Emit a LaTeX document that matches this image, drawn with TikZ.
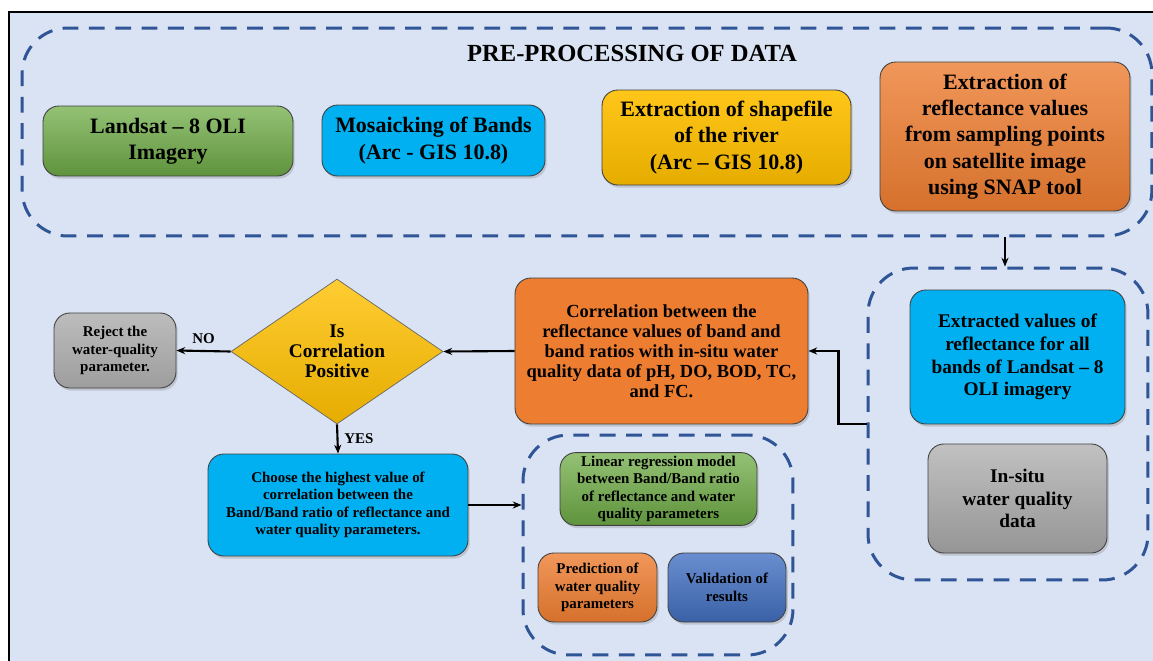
\documentclass[tikz,border=0pt]{standalone}
\usepackage{fontspec}
\setmainfont{Liberation Serif}
\usetikzlibrary{shapes.geometric, arrows.meta, shadows, positioning}

\definecolor{pagebg}{HTML}{DAE3F3}
\definecolor{dashblue}{HTML}{2F5597}
\definecolor{leafgreen}{HTML}{70AD47}
\definecolor{skycyan}{HTML}{00B0F0}
\definecolor{goldyellow}{HTML}{FFC000}
\definecolor{burntorange}{HTML}{ED7D31}
\definecolor{midgray}{HTML}{A6A6A6}
\definecolor{royalblue}{HTML}{4472C4}

\begin{document}
\begin{tikzpicture}[x=0.02cm, y=-0.02cm,
  procbox/.style={draw=black!75, line width=0.5pt, rounded corners=9pt, align=center, inner sep=2pt,
    drop shadow={opacity=0.3, shadow xshift=1pt, shadow yshift=-1.5pt}},
  groupbox/.style={draw=dashblue, line width=1.7pt, dash pattern=on 9pt off 6pt, rounded corners=26pt},
  flowarrow/.style={-{Stealth[length=5pt, width=4pt]}, line width=1.2pt},
  bigtext/.style={font=\fontsize{12.5}{15}\selectfont\bfseries},
  midtext/.style={font=\fontsize{11}{13}\selectfont\bfseries},
  smalltext/.style={font=\fontsize{8.5}{9.9}\selectfont\bfseries}]

% page and frame
\useasboundingbox (0,0) rectangle (1153,660);
\fill[white] (0,0) rectangle (1153,660);
\fill[pagebg] (9,12) rectangle (1160,670);
\draw[line width=1.7pt] (9,670) -- (9,12) -- (1160,12);

% pre-processing group
\node (pre)[groupbox, minimum width=22.6cm, minimum height=4.16cm] at (587,132) {};
\node (title)[font=\fontsize{14}{16}\selectfont\bfseries] at (632,53) {PRE-PROCESSING OF DATA};
\node (landsat)[procbox, bigtext, top color=leafgreen!75!white, bottom color=leafgreen!85!black,
  minimum width=5cm, minimum height=1.4cm] at (168,141) {Landsat -- 8 OLI\\Imagery};
\node (mosaic)[procbox, bigtext, fill=skycyan, minimum width=4.46cm, minimum height=1.42cm]
  at (433.5,140.5) {Mosaicking of Bands\\(Arc - GIS 10.8)};
\node (shape)[procbox, bigtext, top color=goldyellow!90!white, bottom color=goldyellow!90!black,
  minimum width=4.98cm, minimum height=1.9cm] at (726.5,137.5) {Extraction of shapefile\\of the river\\(Arc -- GIS 10.8)};
\node (reflect)[procbox, bigtext, top color=burntorange!80!white, bottom color=burntorange!90!black,
  minimum width=5cm, minimum height=2.98cm] at (1005,136.5)
  {Extraction of\\reflectance values\\from sampling points\\on satellite image\\using SNAP tool};

% extracted data group
\node (rgroup)[groupbox, minimum width=5.6cm, minimum height=6.24cm] at (1008,424) {};
\node (extract)[procbox, midtext, fill=skycyan, minimum width=4.3cm, minimum height=2.68cm]
  at (1017.5,357) {Extracted values of\\reflectance for all\\bands of Landsat -- 8\\OLI imagery};
\node (insitu)[procbox, midtext, top color=midgray!70!white, bottom color=midgray!90!black,
  minimum width=3.58cm, minimum height=2.18cm] at (1017.5,498.5) {In-situ\\water quality\\data};

% correlation and decision
\node (corr)[procbox, font=\fontsize{10.5}{11.4}\selectfont\bfseries, fill=burntorange,
  minimum width=5.86cm, minimum height=2.92cm] at (661.5,351)
  {Correlation between the\\reflectance values of band and\\band ratios with in-situ water\\quality data of pH, DO, BOD, TC,\\and FC.};
\node (decide)[diamond, draw=black!60, line width=0.4pt, inner sep=0pt, aspect=1.46,
  top color=goldyellow!80!white, bottom color=goldyellow!90!black,
  minimum width=4.24cm, minimum height=2.9cm, align=center,
  font=\fontsize{11}{11.5}\selectfont\bfseries] at (337,351.5) {Is\\Correlation\\Positive};
\node (reject)[procbox, smalltext, top color=midgray!75!white, bottom color=midgray!95!black,
  minimum width=2.44cm, minimum height=1.5cm] at (115,350.5) {Reject the\\water-quality\\parameter.};
\node (choose)[procbox, smalltext, fill=skycyan, minimum width=5.2cm, minimum height=2.04cm]
  at (338,505) {Choose the highest value of\\correlation between the\\Band/Band ratio of reflectance and\\water quality parameters.};

% modelling group
\node (mgroup)[groupbox, minimum width=5.4cm, minimum height=4.4cm] at (658,545) {};
\node (linreg)[procbox, smalltext, top color=leafgreen!75!white, bottom color=leafgreen!85!black,
  minimum width=3.94cm, minimum height=1.4cm] at (658.5,489)
  {Linear regression model\\between Band/Band ratio\\of reflectance and water\\quality parameters};
\node (predict)[procbox, smalltext, top color=burntorange!80!white, bottom color=burntorange!90!black,
  minimum width=2.38cm, minimum height=1.38cm] at (597.5,587.5) {Prediction of\\water quality\\parameters};
\node (valid)[procbox, smalltext, top color=royalblue!80!white, bottom color=royalblue!85!black,
  minimum width=2.36cm, minimum height=1.38cm] at (727,587.5) {Validation of\\results};

% connectors
\draw[flowarrow] (reflect.south |- pre.south) -- (reflect.south |- rgroup.north);
\draw[flowarrow] (rgroup.west) -- ++(-28,0) |- (corr.east);
\draw[flowarrow] (corr.west) -- (decide.east);
\draw[flowarrow] (decide.west) -- node[above, font=\fontsize{8.5}{10}\selectfont\bfseries] {NO} (reject.east);
\draw[flowarrow] (decide.south) -- node[right, font=\fontsize{8.5}{10}\selectfont\bfseries] {YES} (choose.north);
\draw[flowarrow] (choose.east) -- (choose.east -| mgroup.west);
\end{tikzpicture}
\end{document}
